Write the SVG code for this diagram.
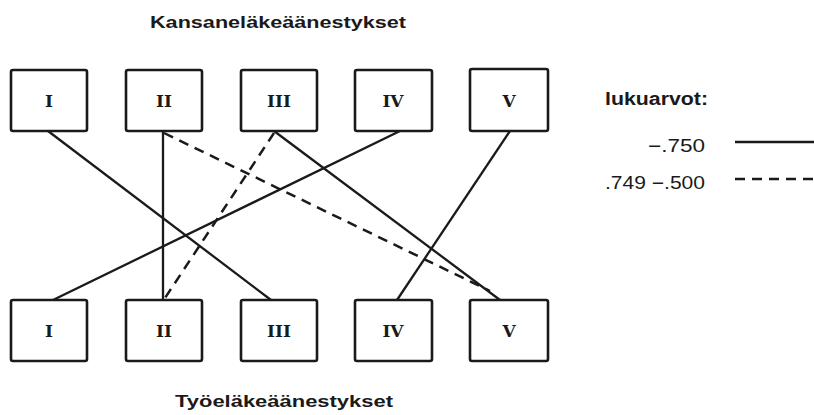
<svg xmlns="http://www.w3.org/2000/svg" width="814" height="415" viewBox="0 0 814 415">
<style>
.box{fill:#fff;stroke:#1a1a1a;stroke-width:2.6}
.num{font-family:"DejaVu Serif","Liberation Serif",serif;font-weight:bold;font-size:17px;fill:#1a1a1a;text-anchor:middle}
.title{font-family:"Liberation Sans",Arial,sans-serif;font-weight:bold;font-size:17px;fill:#1a1a1a}
.leg{font-family:"Liberation Sans",Arial,sans-serif;font-size:18px;fill:#1a1a1a}
.solid{stroke:#1a1a1a;stroke-width:2.3;fill:none}
.dash{stroke:#1a1a1a;stroke-width:2.5;fill:none;stroke-dasharray:10,7}
</style>
<rect width="814" height="415" fill="#fff"/>
<text class="title" x="150" y="28" textLength="256" lengthAdjust="spacingAndGlyphs">Kansaneläkeäänestykset</text>
<text class="title" x="175" y="407" textLength="218" lengthAdjust="spacingAndGlyphs">Työeläkeäänestykset</text>
<g id="connectors">
<line class="solid" x1="48" y1="131" x2="271" y2="300"/>
<line class="solid" x1="163" y1="131" x2="163" y2="300"/>
<line class="dash" x1="164" y1="133" x2="490" y2="291"/>
<line class="solid" x1="274" y1="131" x2="500" y2="300"/>
<line class="dash" x1="274" y1="133" x2="165" y2="298"/>
<line class="solid" x1="400" y1="131" x2="53" y2="300"/>
<line class="solid" x1="510" y1="131" x2="397" y2="300"/>
</g>
<g id="top-I"><rect class="box" x="11" y="70" width="76" height="61" rx="2"/><text class="num" x="49" y="107">I</text></g>
<g id="top-II"><rect class="box" x="126" y="70" width="76" height="61" rx="2"/><text class="num" x="164" y="107">II</text></g>
<g id="top-III"><rect class="box" x="241" y="70" width="76" height="61" rx="2"/><text class="num" x="279" y="107">III</text></g>
<g id="top-IV"><rect class="box" x="355" y="70" width="77" height="61" rx="2"/><text class="num" x="393" y="107">IV</text></g>
<g id="top-V"><rect class="box" x="470" y="69" width="78" height="62" rx="2"/><text class="num" x="509" y="107">V</text></g>
<g id="bottom-I"><rect class="box" x="11" y="300" width="76" height="61" rx="2"/><text class="num" x="49" y="337">I</text></g>
<g id="bottom-II"><rect class="box" x="126" y="300" width="76" height="61" rx="2"/><text class="num" x="164" y="337">II</text></g>
<g id="bottom-III"><rect class="box" x="241" y="300" width="76" height="61" rx="2"/><text class="num" x="279" y="337">III</text></g>
<g id="bottom-IV"><rect class="box" x="355" y="300" width="77" height="61" rx="2"/><text class="num" x="393" y="337">IV</text></g>
<g id="bottom-V"><rect class="box" x="470" y="300" width="78" height="61" rx="2"/><text class="num" x="509" y="337">V</text></g>
<g id="legend">
<text class="leg" x="605" y="105" font-weight="bold" font-size="16" textLength="103" lengthAdjust="spacingAndGlyphs">lukuarvot:</text>
<text class="leg" x="648" y="152" textLength="57" lengthAdjust="spacingAndGlyphs">−.750</text>
<text class="leg" x="605" y="189" textLength="100" lengthAdjust="spacingAndGlyphs">.749 −.500</text>
<line class="solid" x1="735" y1="142" x2="814" y2="142" stroke-width="2.6"/>
<line class="dash" x1="735" y1="179" x2="814" y2="179" stroke-dasharray="9,4" stroke-width="3"/>
</g>
</svg>
